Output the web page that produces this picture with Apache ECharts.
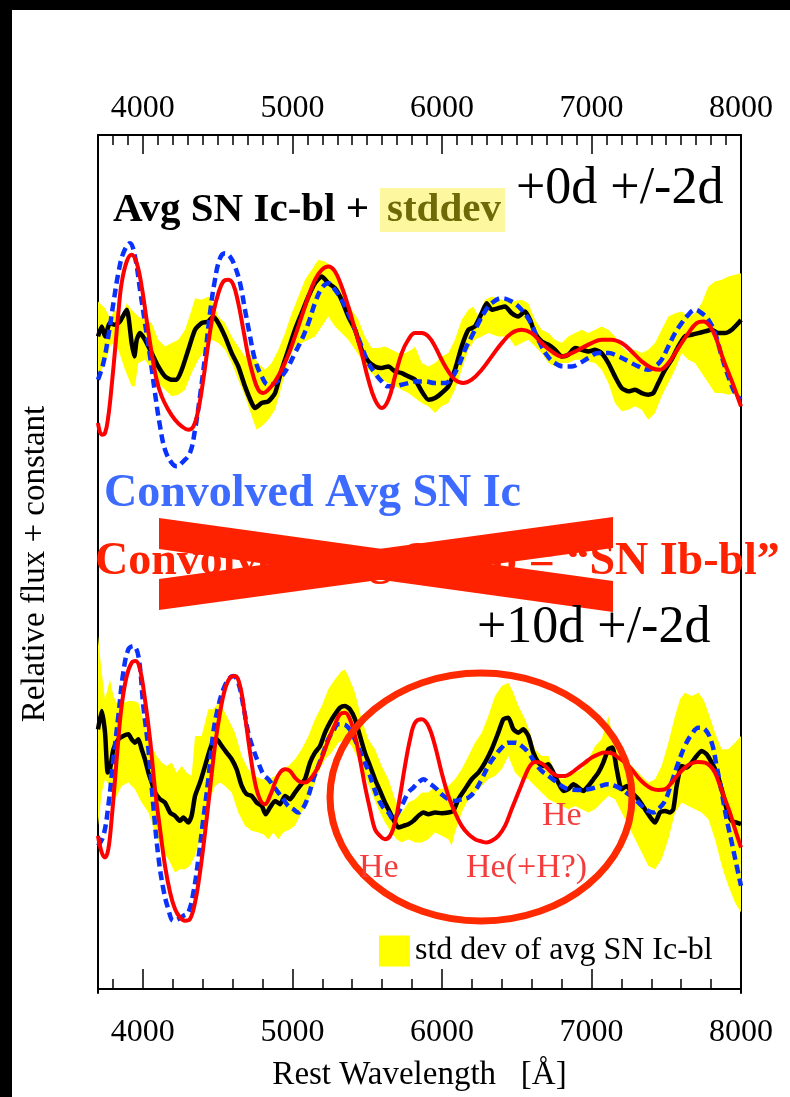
<!DOCTYPE html>
<html>
<head>
<meta charset="utf-8">
<title>Avg SN Ic-bl spectra</title>
<script src="https://cdn.jsdelivr.net/npm/echarts@6.0.0/dist/echarts.min.js"></script>
<style>
  html, body { margin: 0; padding: 0; background: #fff; }
  #chart { width: 790px; height: 1097px; }
</style>
</head>
<body>
<div id="chart"></div>
<script>
// Rest wavelength [Å] vs relative flux (+ constant offsets). Two epochs:
// +0d (upper) and +10d (lower).

const majorTicks = [4000, 5000, 6000, 7000, 8000];
const topMinorTicks = [3800, 3900, 4100, 4200, 4300, 4400, 4500, 4600, 4700, 4800, 4900,
  5100, 5200, 5300, 5400, 5500, 5600, 5700, 5800, 5900, 6100, 6200, 6300, 6400, 6500,
  6600, 6700, 6800, 6900, 7100, 7200, 7300, 7400, 7500, 7600, 7700, 7800, 7900];
const bottomMinorTicks = [3800, 4200, 4400, 4600, 4800, 5200, 5400, 5600, 5800,
  6200, 6400, 6600, 6800, 7200, 7400, 7600, 7800];

// ---- +0d ----
const avgIcBl0 = [[3700,1.96],[3725,1.99],[3747,1.96],[3780,2.00],[3814,1.995],[3847,2.005],[3892,2.04],[3925,1.94],[3943,1.90],[3959,1.95],[3981,1.97],[4014,1.95],[4059,1.91],[4103,1.87],[4148,1.84],[4193,1.83],[4226,1.83],[4260,1.86],[4304,1.92],[4349,1.98],[4393,2.00],[4438,2.005],[4471,2.02],[4505,2.00],[4549,1.96],[4594,1.91],[4638,1.87],[4683,1.81],[4728,1.76],[4750,1.745],[4795,1.76],[4839,1.765],[4884,1.79],[4928,1.86],[4973,1.92],[5017,1.98],[5062,2.03],[5107,2.08],[5151,2.12],[5196,2.14],[5240,2.12],[5285,2.105],[5329,2.07],[5374,2.02],[5419,1.98],[5463,1.92],[5508,1.885],[5552,1.87],[5597,1.865],[5642,1.87],[5686,1.855],[5731,1.85],[5775,1.84],[5820,1.83],[5865,1.795],[5909,1.77],[5954,1.775],[5998,1.79],[6043,1.81],[6087,1.86],[6132,1.93],[6177,1.98],[6221,1.99],[6266,2.03],[6299,2.06],[6333,2.04],[6377,2.045],[6422,2.05],[6466,2.03],[6511,2.02],[6556,2.035],[6589,2.01],[6622,1.97],[6667,1.945],[6712,1.935],[6756,1.92],[6801,1.90],[6845,1.905],[6890,1.925],[6935,1.92],[6979,1.915],[7024,1.92],[7068,1.91],[7113,1.88],[7157,1.84],[7202,1.805],[7247,1.795],[7291,1.80],[7336,1.79],[7380,1.785],[7414,1.79],[7447,1.82],[7492,1.86],[7536,1.89],[7581,1.93],[7625,1.96],[7670,1.965],[7715,1.97],[7759,1.975],[7804,1.98],[7848,1.97],[7893,1.97],[7938,1.98],[7982,2.00],[8000,2.01]];

const convIc0 = [[3700,1.83],[3736,1.88],[3769,1.96],[3803,2.06],[3836,2.15],[3869,2.21],[3914,2.24],[3947,2.20],[3981,2.10],[4014,2.00],[4048,1.90],[4081,1.79],[4115,1.69],[4148,1.62],[4193,1.58],[4226,1.57],[4271,1.585],[4315,1.61],[4349,1.68],[4382,1.78],[4416,1.90],[4449,2.03],[4482,2.13],[4516,2.195],[4549,2.21],[4583,2.20],[4616,2.17],[4650,2.12],[4683,2.04],[4717,1.96],[4750,1.89],[4795,1.84],[4839,1.815],[4884,1.82],[4928,1.84],[4973,1.87],[5017,1.91],[5062,1.95],[5107,2.00],[5151,2.06],[5196,2.105],[5240,2.12],[5285,2.10],[5329,2.07],[5374,2.03],[5419,1.98],[5463,1.93],[5508,1.88],[5552,1.85],[5597,1.825],[5642,1.81],[5686,1.81],[5731,1.815],[5775,1.82],[5820,1.825],[5887,1.825],[5954,1.82],[6021,1.82],[6065,1.835],[6110,1.87],[6154,1.92],[6199,1.96],[6244,2.00],[6288,2.035],[6333,2.06],[6400,2.075],[6466,2.065],[6533,2.04],[6589,2.005],[6645,1.95],[6700,1.905],[6756,1.88],[6812,1.87],[6868,1.87],[6923,1.88],[6979,1.895],[7046,1.91],[7113,1.91],[7180,1.90],[7247,1.885],[7313,1.87],[7380,1.86],[7425,1.87],[7469,1.89],[7514,1.93],[7559,1.97],[7603,2.00],[7648,2.025],[7692,2.04],[7737,2.03],[7782,2.01],[7826,1.97],[7871,1.90],[7915,1.84],[7960,1.79],[8000,1.77]];

const convIb0 = [[3700,1.70],[3725,1.665],[3747,1.67],[3769,1.72],[3791,1.81],[3814,1.92],[3836,2.03],[3858,2.12],[3892,2.185],[3925,2.205],[3959,2.18],[3992,2.11],[4025,2.01],[4059,1.91],[4092,1.83],[4126,1.78],[4170,1.74],[4215,1.71],[4260,1.69],[4304,1.68],[4338,1.69],[4371,1.74],[4404,1.83],[4438,1.94],[4471,2.03],[4505,2.09],[4538,2.125],[4572,2.13],[4605,2.115],[4638,2.06],[4672,1.98],[4705,1.90],[4739,1.84],[4772,1.80],[4806,1.79],[4839,1.80],[4884,1.825],[4928,1.86],[4973,1.905],[5017,1.96],[5062,2.02],[5107,2.08],[5151,2.13],[5196,2.16],[5240,2.17],[5285,2.155],[5329,2.11],[5374,2.05],[5419,1.98],[5463,1.91],[5508,1.83],[5552,1.77],[5597,1.745],[5642,1.77],[5686,1.84],[5731,1.91],[5775,1.95],[5820,1.97],[5865,1.97],[5909,1.96],[5954,1.93],[5998,1.89],[6043,1.855],[6087,1.83],[6143,1.82],[6199,1.83],[6266,1.86],[6333,1.90],[6400,1.94],[6466,1.97],[6533,1.98],[6600,1.97],[6667,1.94],[6734,1.915],[6801,1.90],[6868,1.91],[6935,1.925],[7001,1.94],[7068,1.95],[7135,1.95],[7202,1.94],[7269,1.915],[7336,1.885],[7403,1.865],[7458,1.86],[7514,1.88],[7581,1.925],[7648,1.97],[7703,2.00],[7748,2.005],[7793,1.99],[7837,1.95],[7882,1.89],[7926,1.84],[7960,1.80],[8000,1.75]];

const stdUpper0 = [[3700,2.065],[3747,2.045],[3780,2.015],[3814,2.04],[3858,2.02],[3892,2.06],[3925,2.04],[3970,2.02],[4014,2.01],[4059,2.00],[4103,1.95],[4148,1.93],[4193,1.94],[4237,1.95],[4282,1.98],[4326,2.04],[4349,2.075],[4393,2.07],[4438,2.08],[4471,2.06],[4505,2.02],[4549,2.00],[4594,1.96],[4638,1.93],[4683,1.90],[4728,1.905],[4772,1.88],[4817,1.86],[4861,1.88],[4906,1.92],[4951,1.97],[4995,2.03],[5040,2.08],[5084,2.13],[5129,2.16],[5173,2.19],[5218,2.185],[5263,2.17],[5307,2.14],[5352,2.08],[5396,2.04],[5441,2.01],[5485,1.96],[5530,1.925],[5575,1.925],[5619,1.93],[5664,1.92],[5708,1.91],[5753,1.91],[5798,1.92],[5820,1.93],[5865,1.88],[5909,1.87],[5954,1.88],[5998,1.90],[6043,1.91],[6087,1.95],[6132,2.01],[6177,2.04],[6210,2.05],[6244,2.02],[6288,2.07],[6333,2.08],[6400,2.07],[6466,2.065],[6533,2.07],[6578,2.06],[6622,2.01],[6667,1.98],[6712,1.97],[6756,1.95],[6801,1.94],[6845,1.96],[6890,1.97],[6935,1.98],[6979,1.97],[7024,1.98],[7068,1.99],[7113,1.98],[7157,1.96],[7202,1.93],[7247,1.91],[7291,1.92],[7336,1.91],[7380,1.92],[7425,1.94],[7469,1.98],[7514,2.02],[7559,2.03],[7603,2.035],[7648,2.02],[7692,2.03],[7737,2.06],[7782,2.11],[7826,2.125],[7871,2.13],[7915,2.14],[7960,2.145],[8000,2.15]];

const stdLower0 = [[3700,1.84],[3747,1.88],[3791,1.94],[3836,1.92],[3881,1.86],[3925,1.81],[3947,1.81],[3970,1.88],[4014,1.89],[4059,1.86],[4103,1.82],[4148,1.80],[4193,1.78],[4237,1.785],[4282,1.80],[4326,1.85],[4371,1.89],[4416,1.92],[4460,1.95],[4505,1.94],[4549,1.92],[4594,1.88],[4638,1.83],[4683,1.78],[4728,1.72],[4761,1.68],[4795,1.69],[4839,1.71],[4884,1.74],[4928,1.81],[4973,1.89],[5017,1.93],[5062,1.94],[5107,1.95],[5151,1.96],[5196,1.99],[5240,2.02],[5285,1.99],[5329,1.97],[5374,1.95],[5419,1.92],[5463,1.89],[5508,1.86],[5552,1.84],[5597,1.83],[5642,1.82],[5686,1.81],[5731,1.80],[5775,1.79],[5820,1.775],[5865,1.76],[5909,1.75],[5954,1.73],[5998,1.75],[6043,1.76],[6087,1.80],[6132,1.86],[6177,1.92],[6221,1.95],[6266,1.96],[6310,1.97],[6377,1.96],[6444,1.96],[6489,1.93],[6533,1.94],[6578,1.95],[6622,1.93],[6667,1.91],[6712,1.88],[6756,1.87],[6801,1.88],[6845,1.88],[6890,1.89],[6935,1.89],[6979,1.885],[7024,1.88],[7068,1.86],[7113,1.82],[7157,1.76],[7202,1.735],[7247,1.74],[7291,1.75],[7336,1.74],[7380,1.71],[7425,1.73],[7469,1.78],[7514,1.82],[7559,1.86],[7603,1.91],[7648,1.89],[7692,1.88],[7737,1.85],[7782,1.82],[7826,1.79],[7871,1.79],[7915,1.785],[7960,1.79],[8000,1.77]];

// ---- +10d ----
const avgIcBl10 = [[3700,0.78],[3725,0.835],[3747,0.77],[3765,0.65],[3780,0.66],[3803,0.72],[3836,0.75],[3869,0.76],[3903,0.765],[3925,0.75],[3947,0.74],[3970,0.75],[3992,0.72],[4014,0.69],[4037,0.65],[4059,0.62],[4081,0.59],[4115,0.57],[4148,0.56],[4182,0.53],[4215,0.52],[4248,0.505],[4271,0.515],[4304,0.50],[4326,0.52],[4349,0.58],[4382,0.62],[4416,0.67],[4449,0.72],[4471,0.745],[4494,0.75],[4527,0.73],[4560,0.71],[4594,0.69],[4627,0.66],[4661,0.61],[4694,0.585],[4728,0.58],[4761,0.56],[4795,0.55],[4821,0.525],[4850,0.545],[4884,0.565],[4917,0.555],[4951,0.58],[4984,0.57],[5017,0.59],[5051,0.61],[5084,0.63],[5118,0.68],[5151,0.71],[5185,0.73],[5218,0.77],[5251,0.80],[5285,0.825],[5318,0.845],[5352,0.85],[5385,0.84],[5419,0.81],[5452,0.76],[5485,0.71],[5519,0.67],[5552,0.63],[5586,0.595],[5619,0.56],[5653,0.53],[5686,0.50],[5708,0.485],[5742,0.49],[5775,0.495],[5809,0.505],[5842,0.52],[5876,0.53],[5909,0.525],[5954,0.53],[5998,0.528],[6043,0.53],[6076,0.535],[6110,0.57],[6154,0.60],[6199,0.63],[6244,0.65],[6288,0.68],[6333,0.72],[6377,0.77],[6411,0.81],[6444,0.815],[6478,0.78],[6511,0.77],[6544,0.78],[6578,0.76],[6611,0.71],[6645,0.68],[6678,0.67],[6712,0.675],[6745,0.65],[6778,0.62],[6812,0.595],[6845,0.60],[6879,0.615],[6912,0.605],[6946,0.595],[6979,0.61],[7013,0.63],[7046,0.65],[7079,0.68],[7113,0.72],[7140,0.725],[7169,0.66],[7202,0.60],[7235,0.61],[7269,0.59],[7313,0.57],[7358,0.54],[7403,0.51],[7425,0.50],[7458,0.53],[7492,0.535],[7525,0.53],[7547,0.54],[7570,0.61],[7603,0.67],[7637,0.665],[7670,0.68],[7703,0.70],[7737,0.715],[7770,0.705],[7804,0.68],[7837,0.65],[7871,0.60],[7904,0.54],[7938,0.505],[7971,0.50],[8000,0.495]];

const convIc10 = [[3700,0.43],[3736,0.46],[3769,0.55],[3803,0.69],[3836,0.82],[3869,0.95],[3903,1.02],[3936,1.03],[3970,1.00],[4003,0.85],[4037,0.72],[4070,0.55],[4103,0.40],[4137,0.30],[4170,0.24],[4204,0.205],[4237,0.21],[4271,0.22],[4304,0.23],[4338,0.29],[4371,0.39],[4404,0.51],[4438,0.63],[4471,0.77],[4505,0.85],[4538,0.90],[4572,0.93],[4605,0.94],[4638,0.92],[4672,0.85],[4705,0.77],[4739,0.72],[4772,0.68],[4806,0.645],[4839,0.63],[4873,0.61],[4906,0.59],[4939,0.57],[4973,0.55],[5006,0.54],[5040,0.53],[5073,0.545],[5107,0.58],[5140,0.63],[5173,0.67],[5207,0.71],[5240,0.75],[5274,0.775],[5307,0.795],[5341,0.795],[5374,0.785],[5407,0.76],[5441,0.725],[5474,0.69],[5508,0.655],[5541,0.61],[5575,0.57],[5608,0.545],[5642,0.53],[5675,0.51],[5708,0.53],[5742,0.56],[5775,0.59],[5809,0.605],[5842,0.62],[5876,0.63],[5909,0.62],[5954,0.605],[5998,0.585],[6043,0.57],[6087,0.565],[6132,0.57],[6177,0.575],[6221,0.595],[6266,0.63],[6310,0.67],[6355,0.70],[6400,0.725],[6444,0.74],[6489,0.74],[6533,0.73],[6578,0.71],[6622,0.68],[6667,0.655],[6712,0.64],[6756,0.625],[6801,0.61],[6845,0.60],[6912,0.598],[6979,0.60],[7046,0.608],[7113,0.615],[7157,0.61],[7202,0.60],[7247,0.585],[7291,0.57],[7336,0.55],[7380,0.535],[7414,0.53],[7447,0.54],[7492,0.565],[7536,0.62],[7581,0.68],[7625,0.73],[7670,0.765],[7715,0.785],[7759,0.78],[7804,0.74],[7837,0.67],[7871,0.59],[7904,0.51],[7938,0.44],[7971,0.37],[8000,0.31]];

const convIb10 = [[3700,0.46],[3725,0.41],[3747,0.395],[3769,0.42],[3791,0.51],[3814,0.63],[3836,0.75],[3858,0.85],[3892,0.94],[3925,0.98],[3952,0.985],[3981,0.96],[4014,0.87],[4048,0.75],[4081,0.60],[4115,0.48],[4148,0.37],[4182,0.29],[4215,0.24],[4248,0.215],[4282,0.205],[4315,0.21],[4349,0.26],[4382,0.35],[4416,0.47],[4449,0.60],[4482,0.73],[4516,0.83],[4549,0.90],[4583,0.935],[4616,0.94],[4650,0.91],[4683,0.82],[4717,0.71],[4750,0.62],[4783,0.57],[4817,0.555],[4850,0.58],[4884,0.62],[4917,0.65],[4951,0.66],[4984,0.655],[5017,0.635],[5051,0.622],[5084,0.62],[5118,0.63],[5151,0.65],[5185,0.68],[5218,0.72],[5251,0.76],[5285,0.795],[5318,0.825],[5352,0.83],[5385,0.81],[5419,0.76],[5452,0.69],[5485,0.61],[5519,0.54],[5552,0.48],[5586,0.46],[5619,0.45],[5653,0.46],[5686,0.50],[5720,0.58],[5753,0.67],[5787,0.75],[5820,0.80],[5865,0.81],[5909,0.79],[5954,0.73],[5998,0.65],[6043,0.58],[6087,0.53],[6132,0.49],[6177,0.465],[6221,0.45],[6266,0.443],[6299,0.44],[6333,0.445],[6377,0.46],[6422,0.49],[6466,0.54],[6511,0.59],[6556,0.64],[6589,0.67],[6622,0.682],[6656,0.68],[6689,0.67],[6734,0.65],[6778,0.64],[6823,0.64],[6868,0.65],[6912,0.665],[6957,0.68],[7001,0.695],[7046,0.705],[7091,0.71],[7135,0.708],[7180,0.695],[7224,0.68],[7269,0.66],[7313,0.635],[7358,0.615],[7403,0.602],[7447,0.598],[7492,0.60],[7536,0.62],[7581,0.645],[7625,0.665],[7670,0.678],[7715,0.682],[7759,0.68],[7793,0.67],[7826,0.65],[7860,0.61],[7893,0.57],[7926,0.53],[7960,0.48],[8000,0.425]];

const stdUpper10 = [[3700,1.06],[3725,0.95],[3747,0.87],[3780,0.93],[3803,0.88],[3836,0.85],[3869,0.86],[3903,0.865],[3936,0.865],[3970,0.86],[4014,0.79],[4059,0.73],[4092,0.70],[4126,0.68],[4159,0.67],[4193,0.68],[4226,0.65],[4260,0.67],[4293,0.65],[4326,0.64],[4349,0.76],[4393,0.76],[4438,0.84],[4471,0.84],[4505,0.86],[4538,0.84],[4572,0.81],[4616,0.77],[4661,0.70],[4705,0.66],[4750,0.64],[4795,0.63],[4839,0.63],[4884,0.64],[4928,0.66],[4973,0.67],[5017,0.69],[5062,0.72],[5107,0.76],[5151,0.81],[5196,0.85],[5240,0.90],[5285,0.93],[5329,0.955],[5352,0.96],[5374,0.94],[5419,0.89],[5463,0.81],[5508,0.75],[5552,0.72],[5597,0.67],[5642,0.63],[5686,0.57],[5731,0.53],[5775,0.56],[5820,0.57],[5865,0.59],[5909,0.59],[5954,0.61],[5998,0.60],[6043,0.61],[6087,0.63],[6132,0.66],[6177,0.70],[6221,0.74],[6266,0.77],[6310,0.82],[6355,0.88],[6400,0.91],[6444,0.92],[6478,0.89],[6511,0.85],[6556,0.81],[6589,0.77],[6622,0.72],[6667,0.70],[6712,0.70],[6756,0.65],[6801,0.63],[6845,0.64],[6890,0.65],[6935,0.66],[6979,0.69],[7024,0.73],[7068,0.75],[7113,0.82],[7146,0.75],[7180,0.73],[7213,0.71],[7247,0.68],[7291,0.66],[7336,0.64],[7380,0.62],[7425,0.63],[7469,0.67],[7514,0.74],[7559,0.82],[7592,0.87],[7625,0.89],[7670,0.88],[7715,0.89],[7748,0.87],[7782,0.83],[7826,0.77],[7871,0.72],[7915,0.72],[7960,0.74],[8000,0.76]];

const stdLower10 = [[3700,0.49],[3725,0.59],[3747,0.63],[3780,0.61],[3814,0.57],[3858,0.61],[3903,0.62],[3947,0.60],[3992,0.56],[4037,0.53],[4081,0.47],[4126,0.42],[4170,0.39],[4215,0.35],[4248,0.36],[4282,0.36],[4315,0.37],[4349,0.40],[4382,0.45],[4416,0.49],[4449,0.57],[4482,0.61],[4516,0.62],[4549,0.61],[4594,0.59],[4638,0.53],[4683,0.49],[4728,0.475],[4772,0.47],[4806,0.465],[4839,0.45],[4873,0.47],[4906,0.45],[4939,0.47],[4984,0.48],[5017,0.49],[5051,0.52],[5084,0.55],[5129,0.59],[5173,0.65],[5218,0.69],[5263,0.71],[5307,0.74],[5352,0.75],[5396,0.73],[5441,0.69],[5485,0.64],[5530,0.59],[5575,0.54],[5619,0.50],[5664,0.47],[5697,0.45],[5731,0.44],[5775,0.45],[5820,0.44],[5865,0.44],[5909,0.45],[5954,0.47],[5998,0.46],[6043,0.45],[6065,0.43],[6087,0.47],[6132,0.53],[6177,0.57],[6221,0.59],[6266,0.61],[6310,0.63],[6355,0.64],[6400,0.66],[6444,0.70],[6489,0.65],[6533,0.63],[6578,0.63],[6622,0.61],[6667,0.59],[6712,0.57],[6756,0.56],[6801,0.55],[6845,0.54],[6890,0.55],[6935,0.54],[6979,0.53],[7024,0.54],[7068,0.56],[7113,0.58],[7157,0.57],[7202,0.53],[7247,0.49],[7291,0.45],[7336,0.41],[7380,0.37],[7425,0.36],[7469,0.39],[7514,0.45],[7559,0.53],[7603,0.56],[7648,0.55],[7692,0.54],[7737,0.53],[7782,0.51],[7826,0.45],[7871,0.37],[7915,0.31],[7960,0.26],[8000,0.23]];

const SERIF = "'Liberation Serif', 'Times New Roman', serif";
const STD_NAME = 'std dev of avg SN Ic-bl';

// Filled region between an upper and a lower envelope, placed through the axes.
function bandRenderer(upper, lower) {
  return function (params, api) {
    if (params.dataIndex !== 0) return null;
    const pts = upper.map(p => api.coord(p))
      .concat(lower.slice().reverse().map(p => api.coord(p)));
    return { type: 'polygon', shape: { points: pts }, style: { fill: '#ffff00' } };
  };
}

function bandSeries(upper, lower) {
  return {
    name: STD_NAME, type: 'custom', silent: true, clip: true,
    itemStyle: { color: '#ffff00' },
    encode: { x: 0, y: 1 },
    renderItem: bandRenderer(upper, lower),
    data: upper.concat(lower), z: 1
  };
}

function lineSeries(name, data, color, width, dashed, smooth) {
  return {
    name: name, type: 'line', data: data, showSymbol: false, silent: true,
    smooth: smooth, clip: true, z: dashed ? 3 : (color === '#000000' ? 2 : 4),
    lineStyle: { color: color, width: width, type: dashed ? [9, 5] : 'solid', cap: 'butt', join: 'round' }
  };
}

function xAxisDef(position, ticks, tickLen, withLabels) {
  return {
    type: 'value', position: position, min: 3700, max: 8000,
    axisLine: { show: withLabels, lineStyle: { color: '#000', width: 2 } },
    axisTick: { show: true, inside: true, length: tickLen, customValues: ticks,
      lineStyle: { color: '#000', width: 1.5 } },
    axisLabel: { show: withLabels, customValues: majorTicks, color: '#000',
      formatter: v => String(v),
      fontFamily: SERIF, fontSize: 32, margin: position === 'top' ? 10 : 24 },
    splitLine: { show: false }
  };
}

const chart = echarts.init(document.getElementById('chart'), null, { renderer: 'canvas' });

const xBottom = xAxisDef('bottom', majorTicks, 20, true);
xBottom.name = 'Rest Wavelength   [Å]';
xBottom.nameLocation = 'middle';
xBottom.nameGap = 66;
xBottom.nameTextStyle = { fontFamily: SERIF, fontSize: 33, color: '#000' };

const option = {
  animation: false,
  backgroundColor: '#ffffff',
  grid: { left: 98, right: 49, top: 135, bottom: 103, containLabel: false },
  xAxis: [
    xBottom,
    xAxisDef('bottom', bottomMinorTicks, 10, false),
    xAxisDef('top', majorTicks, 19, true),
    xAxisDef('top', topMinorTicks, 10, false)
  ],
  yAxis: [
    { type: 'value', position: 'left', min: -0.012, max: 2.565,
      name: 'Relative flux + constant', nameLocation: 'middle', nameGap: 46, nameRotate: 90,
      nameTextStyle: { fontFamily: SERIF, fontSize: 33, color: '#000' },
      axisLine: { show: true, lineStyle: { color: '#000', width: 2 } },
      axisTick: { show: false }, axisLabel: { show: false }, splitLine: { show: false } },
    { type: 'value', position: 'right', min: -0.012, max: 2.565,
      axisLine: { show: true, lineStyle: { color: '#000', width: 2 } },
      axisTick: { show: false }, axisLabel: { show: false }, splitLine: { show: false } }
  ],
  legend: {
    data: [STD_NAME], left: 374, top: 930, itemWidth: 31, itemHeight: 31,
    icon: 'rect', selectedMode: false,
    textStyle: { fontFamily: SERIF, fontSize: 32, color: '#000' }
  },
  series: [
    bandSeries(stdUpper0, stdLower0),
    bandSeries(stdUpper10, stdLower10),
    lineSeries('Avg SN Ic-bl +0d', avgIcBl0, '#000000', 4.5, false, 0.2),
    lineSeries('Convolved Avg SN Ic +0d', convIc0, '#0a32ff', 4.5, true, 0.4),
    lineSeries('Convolved Avg SN Ib +0d', convIb0, '#ff0000', 4, false, 0.4),
    lineSeries('Avg SN Ic-bl +10d', avgIcBl10, '#000000', 4.5, false, 0.2),
    lineSeries('Convolved Avg SN Ic +10d', convIc10, '#0a32ff', 4.5, true, 0.4),
    lineSeries('Convolved Avg SN Ib +10d', convIb10, '#ff0000', 4, false, 0.4)
  ],
  graphic: [
    // dark page edge along the top and left
    { type: 'rect', shape: { x: 0, y: 0, width: 790, height: 10 }, style: { fill: '#000' }, z: 100 },
    { type: 'rect', shape: { x: 0, y: 0, width: 12, height: 1097 }, style: { fill: '#000' }, z: 100 },

    // panel captions
    { type: 'text', z: 50, style: { text: 'Avg SN Ic-bl +', x: 113, y: 210, font: 'bold 41px ' + SERIF,
      fill: '#000', align: 'left', verticalAlign: 'middle' } },
    { type: 'rect', z: 49, shape: { x: 380, y: 188, width: 125, height: 44 }, style: { fill: '#fdf8a0' } },
    { type: 'text', z: 50, style: { text: 'stddev', x: 387, y: 210, font: 'bold 41px ' + SERIF,
      fill: '#6e6a08', align: 'left', verticalAlign: 'middle' } },
    { type: 'text', z: 50, style: { text: '+0d +/-2d', x: 516, y: 189, font: '52px ' + SERIF,
      fill: '#000', align: 'left', verticalAlign: 'middle' } },
    { type: 'text', z: 50, style: { text: 'Convolved Avg SN Ic', x: 104, y: 494, font: 'bold 46px ' + SERIF,
      fill: '#3d6bff', align: 'left', verticalAlign: 'middle' } },

    // struck-out caption: text underneath, cross on top
    { type: 'text', z: 48, style: { text: 'Convolved Avg SN Ib = \u201CSN Ib-bl\u201D', x: 95, y: 562,
      font: 'bold 46px ' + SERIF, fill: '#ff2200', align: 'left', verticalAlign: 'middle' } },
    { type: 'polygon', z: 50, shape: { points: [[159, 518], [613, 581], [613, 612], [159, 549]] },
      style: { fill: '#ff2200' } },
    { type: 'polygon', z: 50, shape: { points: [[159, 579], [613, 517], [613, 548], [159, 610]] },
      style: { fill: '#ff2200' } },

    { type: 'text', z: 50, style: { text: '+10d +/-2d', x: 477, y: 628, font: '52px ' + SERIF,
      fill: '#000', align: 'left', verticalAlign: 'middle' } },

    // helium region
    { type: 'ellipse', z: 40, shape: { cx: 481, cy: 797, rx: 151, ry: 124 },
      style: { fill: 'none', stroke: '#ff2a00', lineWidth: 7 } },
    { type: 'text', z: 50, style: { text: 'He', x: 359, y: 868, font: '34px ' + SERIF,
      fill: '#f43c3c', align: 'left', verticalAlign: 'middle' } },
    { type: 'text', z: 50, style: { text: 'He(+H?)', x: 466, y: 868, font: '34px ' + SERIF,
      fill: '#f43c3c', align: 'left', verticalAlign: 'middle' } },
    { type: 'text', z: 50, style: { text: 'He', x: 542, y: 816, font: '34px ' + SERIF,
      fill: '#f43c3c', align: 'left', verticalAlign: 'middle' } }
  ]
};

chart.setOption(option);
</script>
</body>
</html>
